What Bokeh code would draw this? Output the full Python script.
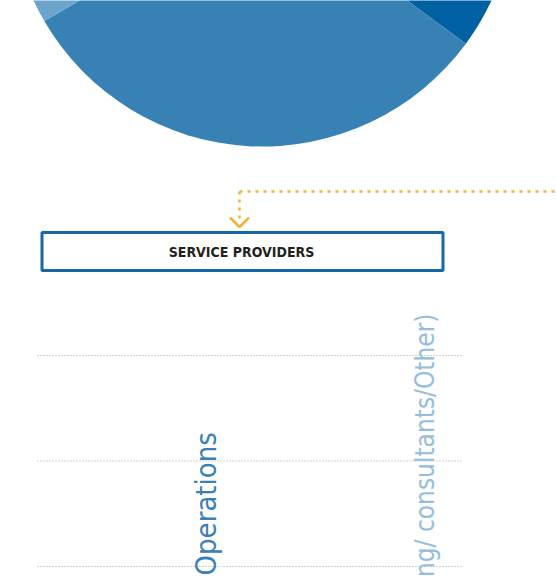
import numpy as np
from bokeh.plotting import figure
from bokeh.models import Range1d, BoxAnnotation
from bokeh.core.properties import value
from bokeh.embed import file_html
from bokeh.resources import INLINE

# ---- data ----
pie_labels = ["Slice 1", "Slice 2", "Slice 3"]
pie_shares = [35.1, 31.5, 33.4]          # percent, clockwise from 12 o'clock
pie_colors = ["#0061a2", "#3781b4", "#6ca4cb"]

bar_categories = ["Operations", "ng/ consultants/Other)"]
label_colors = ["#3a80b6", "#94bedc"]
grid_values = [10, 20, 30]
box_title = "SERVICE PROVIDERS"

FONT = "DejaVu Sans Condensed"
W, H = 556, 586

p = figure(width=W, height=H, output_backend="svg", toolbar_location=None,
           x_range=Range1d(0, W), y_range=Range1d(0, H),
           x_axis_location=None, y_axis_location=None, min_border=0,
           outline_line_color=None, background_fill_color="white")
p.grid.visible = False
p.extra_y_ranges = {"val": Range1d(10 - 20 / 10.55, 10 + 566 / 10.55)}

# ---- pie (only its lower part is in view) ----
shares = np.array(pie_shares, dtype=float)
cum = np.concatenate([[0], np.cumsum(shares)]) / shares.sum()
start = 90 - cum[1:] * 360
end = 90 - cum[:-1] * 360
p.wedge(x=262, y=692.6, radius=252.6, start_angle=start, end_angle=end,
        start_angle_units="deg", end_angle_units="deg",
        fill_color=pie_colors, line_color=None)

# ---- orange dotted connector ----
orange = "#f6b13c"
p.line(x=[239, 560], y=[395, 395], line_color=orange, line_width=2.5, line_dash="3 5")
p.line(x=[239, 239], y=[395, 364], line_color=orange, line_width=2.5, line_dash="3 5")
p.line(x=[229.5, 239, 248.5], y=[369, 359.5, 369], line_color=orange, line_width=2.5)

# ---- title box ----
p.add_layout(BoxAnnotation(left=41.5, right=442.5, top=354, bottom=316,
                           fill_color=None, fill_alpha=0,
                           line_color="#1767a7", line_alpha=1, line_width=3))
p.text(x=[241], y=[334.5], text=[box_title], text_font=value(FONT),
       text_font_style="bold", text_font_size="14px", text_color="#231f20",
       text_align="center", text_baseline="middle")

# ---- gridlines of the value axis ----
p.segment(x0=37, x1=462, y0=grid_values, y1=grid_values, y_range_name="val",
          line_color="#a0a0a0", line_width=1, line_dash="1 2")

# ---- rotated category labels ----
p.text(x=[205], y=[11], text=[bar_categories[0]], angle=np.pi / 2,
       text_font=value(FONT), text_font_size="29px", text_color=label_colors[0],
       text_align="left", text_baseline="alphabetic")
p.text(x=[424], y=[273], text=[bar_categories[1]], angle=np.pi / 2,
       text_font=value(FONT), text_font_size="26px", text_color=label_colors[1],
       text_align="right", text_baseline="alphabetic")

open("out.html", "w").write(file_html(p, INLINE))
